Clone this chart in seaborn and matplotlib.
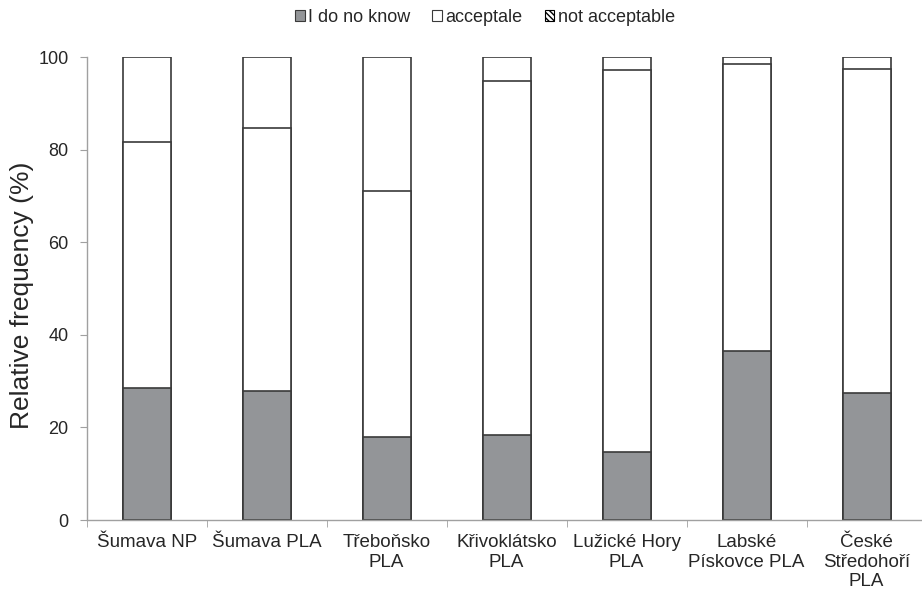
import matplotlib
matplotlib.use("Agg")
from matplotlib import pyplot as plt
from matplotlib.patches import Patch
from matplotlib.ticker import FixedLocator
import seaborn as sns
import pandas as pd

areas = [
    "Šumava NP",
    "Šumava PLA",
    "Třeboňsko\nPLA",
    "Křivoklátsko\nPLA",
    "Lužické Hory\nPLA",
    "Labské\nPískovce PLA",
    "České\nStředohoří\nPLA",
]
dont_know = [28.6, 27.9, 17.9, 18.4, 14.6, 36.6, 27.4]
acceptable = [53.0, 56.9, 53.1, 76.5, 82.7, 61.9, 70.0]
not_acceptable = [18.4, 15.2, 29.0, 5.1, 2.7, 1.5, 2.6]

GRAY = "#939598"
EDGE = "#3a3a3a"
AXIS = "#a0a0a0"

sns.set_style("white")
plt.rcParams["font.family"] = ["Liberation Sans", "DejaVu Sans"]

df = pd.DataFrame(
    {
        "area": areas,
        "dk": dont_know,
        "acc": acceptable,
        "no": not_acceptable,
    }
)
df["top_acc"] = df["dk"] + df["acc"]
df["top_no"] = df["top_acc"] + df["no"]

fig = plt.figure(figsize=(9.22, 5.92), dpi=100)
ax = fig.add_axes([0.094, 0.1216, 0.911, 0.7816])

bar_kws = dict(width=0.4, edgecolor=EDGE, linewidth=1.2, saturation=1, ax=ax)
sns.barplot(data=df, x="area", y="top_no", color="white", **bar_kws)
sns.barplot(data=df, x="area", y="top_acc", color="white", **bar_kws)
sns.barplot(data=df, x="area", y="dk", color=GRAY, **bar_kws)

ax.set_xlim(-0.5, len(areas) - 0.5)
ax.set_ylim(0, 100)
ax.set_yticks([0, 20, 40, 60, 80, 100])
ax.set_xlabel("")
ax.set_ylabel("Relative frequency (%)", fontsize=19)
ax.yaxis.set_label_coords(-0.063, 0.485)

ax.tick_params(axis="y", which="major", direction="out", length=5, color=AXIS,
               labelsize=13, left=True, pad=8)
ax.tick_params(axis="x", which="major", length=0, labelsize=13.5, pad=10)
ax.xaxis.set_minor_locator(FixedLocator([i - 0.5 for i in range(len(areas) + 1)]))
ax.tick_params(axis="x", which="minor", direction="out", length=5, color=AXIS, bottom=True)
for lbl in ax.get_xticklabels():
    lbl.set_ha("center")
    lbl.set_linespacing(1.2)

for side in ["top", "right"]:
    ax.spines[side].set_visible(False)
for side in ["left", "bottom"]:
    ax.spines[side].set_color(AXIS)
    ax.spines[side].set_linewidth(1.0)

handles = [
    Patch(facecolor=GRAY, edgecolor=EDGE, linewidth=0.8, label="I do no know"),
    Patch(facecolor="white", edgecolor=EDGE, linewidth=0.8, label="acceptale"),
    Patch(facecolor="white", edgecolor="black", linewidth=0.8, hatch="\\\\\\\\\\\\",
          label="not acceptable"),
]
fig.legend(
    handles=handles,
    loc="center",
    bbox_to_anchor=(0.526, 0.971),
    ncol=3,
    frameon=False,
    fontsize=13,
    handlelength=0.55,
    handleheight=0.55,
    handletextpad=0.2,
    columnspacing=1.2,
)

fig.savefig("out.png", dpi=100)
